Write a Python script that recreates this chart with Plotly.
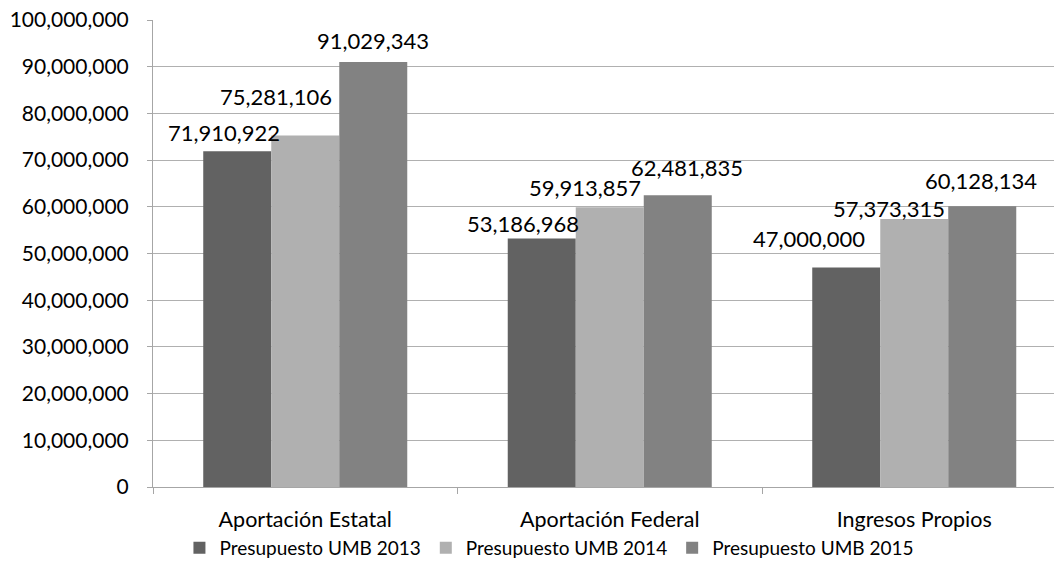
import plotly.graph_objects as go

categories = ["Aportación Estatal", "Aportación Federal", "Ingresos Propios"]
series_names = ["Presupuesto UMB 2013", "Presupuesto UMB 2014", "Presupuesto UMB 2015"]
values_2013 = [71910922, 53186968, 47000000]
values_2014 = [75281106, 59913857, 57373315]
values_2015 = [91029343, 62481835, 60128134]
y_ticks = list(range(0, 100000001, 10000000))

# styling
colors = ["#626262", "#b0b0b0", "#828282"]
# manual nudges of the data labels (px), as placed in the original chart
label_dx = [[-13, -19, -37], [-29, -25, -25], [0, 9, -1]]
label_gap = [[9, 6, 20], [29, 10, 1], [12, 18, 16]]

FONT = "Lato, Open Sans, sans-serif"
W, H = 1054, 587
ML, MR, MT, MB = 153, 0, 20, 100
BARGAP = 0.33
CAT_PX = 304.5
x_span = (W - ML - MR) / CAT_PX
bar_px = CAT_PX * (1 - BARGAP) / 3
plot_h = H - MT - MB

fig = go.Figure()
annotations = []
all_vals = [values_2013, values_2014, values_2015]
for i, (name, vals, col) in enumerate(zip(series_names, all_vals, colors)):
    fig.add_trace(go.Bar(
        x=categories, y=vals, name=name,
        marker=dict(color=col, line=dict(width=0)),
    ))
    for j, (cat, v) in enumerate(zip(categories, vals)):
        annotations.append(dict(
            x=cat, y=v, xref="x", yref="y",
            text=f"{v:,}", showarrow=False,
            xanchor="center", yanchor="bottom",
            xshift=(i - 1) * bar_px + label_dx[i][j],
            yshift=label_gap[i][j] - 6,
            font=dict(size=22, color="#000000", family=FONT),
        ))

fig.update_layout(
    width=W, height=H,
    barmode="group", bargap=BARGAP, bargroupgap=0,
    plot_bgcolor="white", paper_bgcolor="white",
    margin=dict(l=ML, r=MR, t=MT, b=MB, autoexpand=False),
    font=dict(family=FONT, size=21, color="#000000"),
    legend=dict(orientation="h", x=0.44, xanchor="center", y=-61 / plot_h, yanchor="middle",
                font=dict(size=19), itemwidth=30, traceorder="normal",
                bgcolor="rgba(0,0,0,0)"),
    annotations=annotations,
    showlegend=True,
)
fig.update_xaxes(range=[-0.5, -0.5 + x_span],
                 showline=True, linecolor="#a6a6a6", linewidth=1,
                 ticks="outside", tickson="boundaries", ticklen=6, tickcolor="#a6a6a6",
                 tickfont=dict(size=21.5), ticklabelstandoff=13, showgrid=False)
fig.update_yaxes(range=[0, 100000000], tickvals=y_ticks,
                 ticktext=[f"{v:,}" for v in y_ticks],
                 showline=True, linecolor="#a6a6a6", linewidth=1,
                 ticks="outside", ticklen=5, tickcolor="#a6a6a6",
                 gridcolor="#b0b0b0", gridwidth=1, zeroline=False,
                 tickfont=dict(size=21), ticklabelstandoff=14,
                 ticklabeloverflow="allow")

fig.write_html("out.html", config={"displayModeBar": False},
               post_script="document.body.style.margin='0';")
